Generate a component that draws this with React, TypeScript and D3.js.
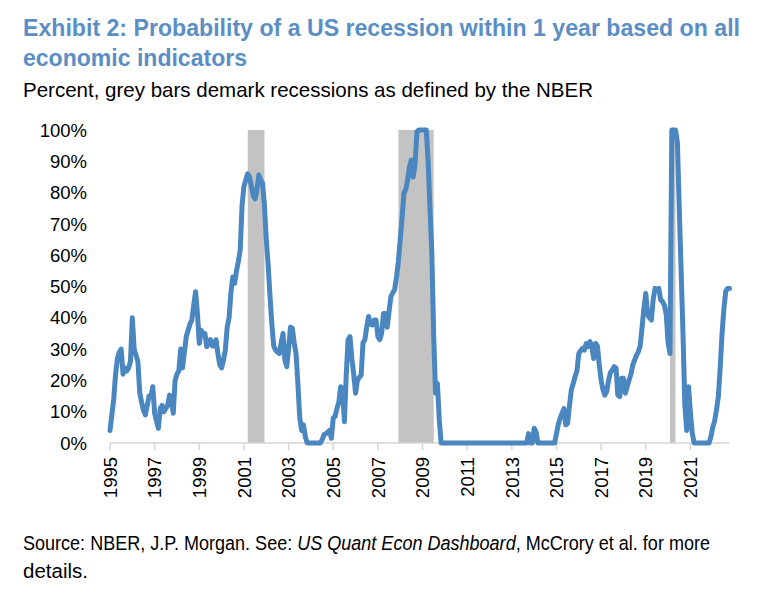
import React from "react";
import * as d3 from "d3";

// ---- Data (monthly, starting Jan 1995) ----
const startYear = 1995;
const probability: number[] = [
  // 1995
  4, 9, 14, 22, 27, 29, 30, 22, 24, 23, 24, 26,
  // 1996
  40, 30, 28, 26, 16, 13, 10.5, 9, 12, 15, 14.8, 18,
  // 1997
  9.5, 7, 4.7, 11, 12, 10, 11, 12, 15.3, 13.7, 9.5, 20,
  // 1998
  22, 23, 30, 24, 29, 34, 36, 38, 39.3, 44, 48.3, 41.4,
  // 1999
  31.8, 36, 35, 35, 30.8, 32, 33, 31, 31, 33, 28.6, 25,
  // 2000
  24, 26.5, 29.7, 37, 40, 48, 53, 51, 55, 58, 61.7, 76,
  // 2001
  82, 84, 86, 85, 82, 79, 78, 81, 85.6, 84, 83, 76,
  // 2002
  65, 57, 47, 38, 31, 29.7, 29, 28.6, 32, 35, 26.5, 24.4,
  // 2003
  30, 37, 36.6, 32, 28.6, 19, 8, 4, 5.8, 2, 0, 0,
  // 2004
  0, 0, 0, 0, 0, 0, 1, 2.6, 3, 3.5, 4, 1.5,
  // 2005
  8, 8.5, 11, 13, 18, 17, 6.8, 22, 33, 34, 27, 22,
  // 2006
  15.9, 20, 21, 21.7, 32, 33, 37, 40.4, 38, 37.7, 39.3, 39.3,
  // 2007
  34, 33, 35, 41.4, 41.4, 37, 42, 46.8, 48, 49, 53, 58,
  // 2008
  65, 72, 79.8, 81, 84, 88.3, 90.4, 85, 89.4, 99.5, 100, 100,
  // 2009
  100, 100, 100, 90, 75, 60.6, 34, 15.9, 19, 7.3, 0, 0,
  // 2010
  0, 0, 0, 0, 0, 0, 0, 0, 0, 0, 0, 0,
  // 2011
  0, 0, 0, 0, 0, 0, 0, 0, 0, 0, 0, 0,
  // 2012
  0, 0, 0, 0, 0, 0, 0, 0, 0, 0, 0, 0,
  // 2013
  0, 0, 0, 0, 0, 0, 0, 0, 0, 3, 0, 0,
  // 2014
  4.7, 3.6, 0, 0, 0, 0, 0, 0, 0, 0, 0, 0,
  // 2015
  3, 6, 8, 9.5, 11, 5.8, 6.3, 12, 17, 19, 21.2, 23,
  // 2016
  28.6, 29.5, 30.2, 29.7, 31.8, 30.8, 32.4, 30.8, 27, 31.8, 31, 25,
  // 2017
  20, 17, 15.3, 16.4, 20, 22.5, 23.3, 24.4, 23.9, 15.3, 14.8, 20.7,
  // 2018
  20.7, 15.9, 18, 20, 22, 24.9, 26.5, 28, 29.2, 31, 37, 43,
  // 2019
  47.8, 41, 40, 39.3, 46, 49.4, 48.9, 49.4, 45.7, 45.2, 44, 41,
  // 2020
  32, 28.6, 100, 100, 100, 96, 75, 55, 35, 12, 4, 18,
  // 2021
  9.5, 3, 0, 0, 0, 0, 0, 0, 0, 0, 0, 2,
  // 2022
  5, 7, 10.5, 14.8, 24, 35, 43, 48.5, 49.4, 49.4,
];

// NBER recessions (decimal years)
const recessionStarts = [2001.17, 2007.92, 2020.08];
const recessionEnds = [2001.92, 2009.5, 2020.33];

const yTicks = [0, 10, 20, 30, 40, 50, 60, 70, 80, 90, 100];
const xTickYears = [1995, 1997, 1999, 2001, 2003, 2005, 2007, 2009, 2011, 2013, 2015, 2017, 2019, 2021];

const titleLines = [
  "Exhibit 2: Probability of a US recession within 1 year based on all",
  "economic indicators",
];
const subtitle = "Percent, grey bars demark recessions as defined by the NBER";

const FONT = "'Liberation Sans', Arial, Helvetica, sans-serif";

export default function App() {
  const width = 758;
  const height = 603;

  const x = d3.scaleLinear().domain([1995, 2022.75]).range([110, 729.5]);
  const y = d3.scaleLinear().domain([0, 100]).range([443, 130]);

  const points: [number, number][] = probability.map((v, i) => [startYear + i / 12, v]);
  const line = d3
    .line<[number, number]>()
    .x((d) => x(d[0]))
    .y((d) => y(d[1]))
    .curve(d3.curveLinear);

  const blue = "#4a86bf";
  const titleBlue = "#5a8ec4";

  return (
    <svg
      width={width}
      height={height}
      viewBox={`0 0 ${width} ${height}`}
      style={{ position: "absolute", left: 0, top: 0, background: "#fff" }}
      fontFamily={FONT}
    >
      <rect x={0} y={0} width={width} height={height} fill="#fff" />

      {/* Title */}
      <text x={23} y={36} fontSize={23.2} fontWeight="bold" fill={titleBlue} textLength={717} lengthAdjust="spacingAndGlyphs">
        {titleLines[0]}
      </text>
      <text x={23} y={66} fontSize={23.2} fontWeight="bold" fill={titleBlue} textLength={224} lengthAdjust="spacingAndGlyphs">
        {titleLines[1]}
      </text>
      <text x={23} y={96.5} fontSize={21} fill="#000" textLength={570} lengthAdjust="spacingAndGlyphs">
        {subtitle}
      </text>

      {/* Recession bars */}
      {recessionStarts.map((s, i) => (
        <rect
          key={"r" + i}
          x={x(s)}
          y={y(100)}
          width={x(recessionEnds[i]) - x(s)}
          height={y(0) - y(100)}
          fill="#c3c3c3"
        />
      ))}

      {/* X axis */}
      <line x1={x(1995)} x2={x(2022.75)} y1={y(0)} y2={y(0)} stroke="#d6d6d6" strokeWidth={1.5} />
      {xTickYears.map((yr) => (
        <g key={"xt" + yr}>
          <line x1={x(yr)} x2={x(yr)} y1={y(0)} y2={y(0) + 7} stroke="#d6d6d6" strokeWidth={1.5} />
          <text
            transform={`translate(${x(yr)},457) rotate(-90)`}
            textAnchor="end"
            dy="0.36em"
            fontSize={18.5}
            fill="#000"
          >
            {String(yr)}
          </text>
        </g>
      ))}

      {/* Y axis labels */}
      {yTicks.map((t) => (
        <text key={"yt" + t} x={87} y={y(t)} dy="0.36em" textAnchor="end" fontSize={18.5} fill="#000">
          {t + "%"}
        </text>
      ))}

      {/* Line */}
      <path
        d={line(points) || ""}
        fill="none"
        stroke={blue}
        strokeWidth={5}
        strokeLinejoin="round"
        strokeLinecap="round"
      />

      {/* Footer */}
      <text x={23} y={550} fontSize={20.5} fill="#000" textLength={687} lengthAdjust="spacingAndGlyphs">
        Source: NBER, J.P. Morgan. See: <tspan fontStyle="italic">US Quant Econ Dashboard</tspan>, McCrory et al. for more
      </text>
      <text x={23} y={578} fontSize={20.5} fill="#000">
        details.
      </text>
    </svg>
  );
}
